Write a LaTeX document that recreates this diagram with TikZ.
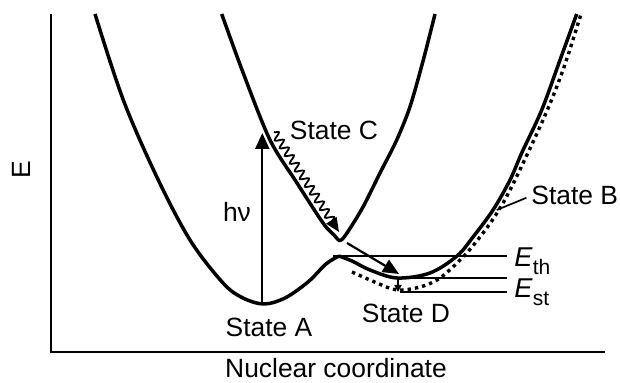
\documentclass[tikz,border=0pt]{standalone}
\usepackage{fontspec}
\setmainfont{Liberation Sans}
\usetikzlibrary{arrows.meta,decorations.pathmorphing}

\newcommand{\lev}[1]{\textit{E}\raisebox{-4pt}{\fontsize{10.5}{10}\selectfont #1}}

\begin{document}
\begin{tikzpicture}[x=0.5pt, y=-0.5pt,
  curve/.style={line width=1.75pt, line join=round},
  level/.style={line width=0.85pt},
  lbl/.style={font=\fontsize{13.2}{15}\selectfont, inner sep=0pt, anchor=base},
  elbl/.style={font=\fontsize{13.6}{15}\selectfont, inner sep=0pt, anchor=base west},
  bigtip/.style={-{Triangle[length=8pt,width=7pt]}, line width=1.1pt}]
  \useasboundingbox (0,0) rectangle (620,383);

  % Axes
  \draw[line width=1.2pt] (50.7,14) -- (50.7,352) -- (605,352);
  \node[lbl, rotate=90] (labE) at (30,170) {E};
  \node[lbl] (labX) at (336,378) {Nuclear coordinate};

  % State A well, up to the crossing
  \draw[curve] plot[smooth, tension=0.55] coordinates {(95,14) (123.3,100) (156.7,176.7)
    (190,240) (223.3,283.3) (243,298) (264,304) (285,298) (308,282) (326,264) (339,256)};
  % State B well
  \draw[curve] plot[smooth, tension=0.55] coordinates {(339,256) (352,261) (370,270)
    (397,278) (430,273) (457,256) (473,237) (493,210) (510,180) (521.7,153)
    (541.7,110) (560,60) (576.7,14)};
  % State D (dotted)
  \draw[line width=1.7pt, dash pattern=on 1.7pt off 2pt] plot[smooth, tension=0.55]
    coordinates {(352,272) (377,283) (397,290) (420,287) (440,278) (463,257) (480,237)
    (497,213) (513,184) (543,120) (563,70) (581,14)};
  % State C well
  \draw[curve] plot[smooth, tension=0.5] coordinates {(221.7,14) (243.3,73.3) (270,140)
    (297,183) (323,223) (334,235) (340,240.5) (347,233) (363,207) (380,173)
    (396.7,140) (410,106.7) (423.3,60) (435,14)};

  % Energy levels
  \coordinate (thL) at (333,256);
  \coordinate (thR) at (507,256);
  \coordinate (midL) at (398,278.3);
  \coordinate (midR) at (507,278.3);
  \coordinate (stL) at (400,291.7);
  \coordinate (stR) at (507,291.7);
  \draw[level] (thL) -- (thR);
  \draw[level] (midL) -- (midR);
  \draw[level] (stL) -- (stR);
  \node[elbl] (labTh) at (514,267) {\lev{th}};
  \node[elbl] (labSt) at (514,298) {\lev{st}};

  % Transitions
  \coordinate (Abot) at (262.3,302);
  \coordinate (Ctop) at (262.3,133);
  \draw[bigtip] (Abot) -- (Ctop);
  \node[lbl] (labHv) at (237,222) {hν};

  \coordinate (wS) at (274,132);
  \coordinate (wE) at (339,232);
  \draw[-{Triangle[length=7pt,width=6pt]}, line width=0.9pt,
    decorate, decoration={snake, segment length=4.6pt, amplitude=2pt, post length=5pt}]
    (wS) -- (wE);

  \coordinate (Cbot) at (347,243);
  \coordinate (Bbot) at (399,274);
  \draw[bigtip] (Cbot) -- (Bbot);

  \coordinate (Dtop) at (398,279);
  \coordinate (Dbot) at (398,292);
  \draw[-{Triangle[length=3.5pt,width=3.5pt]}, line width=0.9pt] (Dtop) -- (Dbot);

  % State labels
  \node[lbl] (labC) at (334,140) {State C};
  \node[lbl] (labA) at (269,337) {State A};
  \node[lbl] (labD) at (406,323) {State D};
  \node[lbl, anchor=base west] (labB) at (531,205) {State B};
  \coordinate (onB) at (496.7,210);
  \draw[line width=0.85pt, shorten <=2.5pt] (labB.west) -- (onB);
\end{tikzpicture}
\end{document}
